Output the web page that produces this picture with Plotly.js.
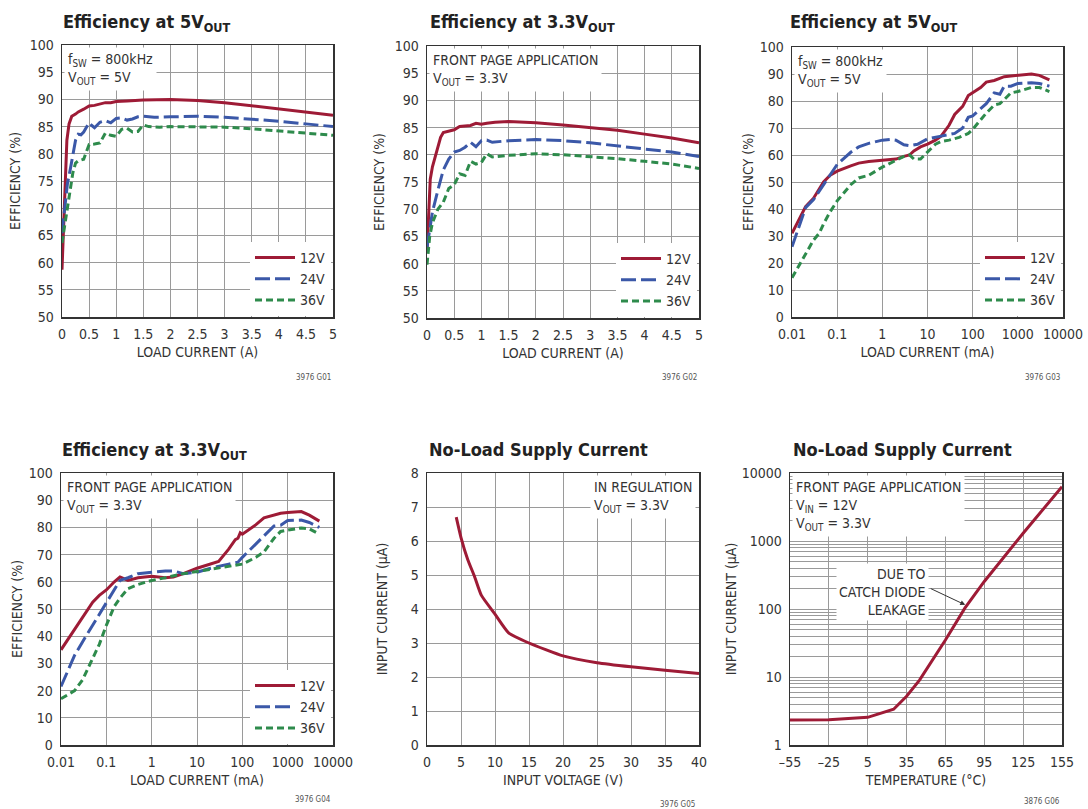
<!DOCTYPE html>
<html>
<head>
<meta charset="utf-8">
<script src="https://cdn.plot.ly/plotly-3.0.1.min.js"></script>
<style>html,body{margin:0;padding:0;background:#fff;}#chart{width:1088px;height:809px;}</style>
</head>
<body>
<div id="chart"></div>
<script>
// ---------- DATA ----------
const seriesNames = ['12V', '24V', '36V'];

// Panel 1: Efficiency at 5VOUT, linear load current (A)
const p1_x12 = [0, 0.03, 0.06, 0.09, 0.13, 0.18, 0.25, 0.3, 0.4, 0.5, 0.6, 0.7, 0.8, 0.9, 1.0, 1.2, 1.5, 2.0, 2.5, 3.0, 3.5, 4.0, 4.5, 5.0];
const p1_y12 = [58.7, 68, 76, 82.5, 85.5, 86.9, 87.3, 87.7, 88.2, 88.8, 88.9, 89.2, 89.4, 89.4, 89.6, 89.7, 89.9, 90.0, 89.8, 89.4, 88.8, 88.3, 87.7, 87.1];
const p1_x24 = [0, 0.05, 0.1, 0.15, 0.2, 0.25, 0.3, 0.35, 0.4, 0.45, 0.5, 0.55, 0.6, 0.7, 0.8, 0.9, 1.0, 1.1, 1.2, 1.3, 1.4, 1.5, 1.7, 2.0, 2.5, 3.0, 3.5, 4.0, 4.5, 5.0];
const p1_y24 = [65.4, 70.5, 74.5, 77, 79.5, 82.5, 83.6, 83.5, 84, 84.8, 85.7, 85.2, 84.8, 85.8, 86.1, 85.7, 86.5, 86.6, 86.2, 86.4, 86.8, 86.9, 86.7, 86.8, 86.9, 86.7, 86.4, 86.0, 85.5, 85.0];
const p1_x36 = [0, 0.05, 0.1, 0.15, 0.2, 0.25, 0.3, 0.4, 0.45, 0.5, 0.6, 0.7, 0.8, 0.9, 1.0, 1.1, 1.2, 1.3, 1.4, 1.5, 1.6, 1.8, 2.0, 2.5, 3.0, 3.5, 4.0, 4.5, 5.0];
const p1_y36 = [63.6, 67, 70.5, 74, 76.5, 78.3, 78.7, 79, 80.5, 81.7, 81.8, 82, 83.8, 83.4, 83.2, 84.5, 84.7, 84.0, 84.1, 85.3, 85.0, 84.9, 85.0, 85.0, 84.9, 84.6, 84.2, 83.8, 83.4];

// Panel 2: Efficiency at 3.3VOUT, linear load current (A)
const p2_x12 = [0, 0.03, 0.06, 0.1, 0.15, 0.2, 0.25, 0.3, 0.4, 0.5, 0.6, 0.7, 0.8, 0.9, 1.0, 1.1, 1.25, 1.5, 2.0, 2.5, 3.0, 3.5, 4.0, 4.5, 5.0];
const p2_y12 = [62.2, 70, 75.5, 77.8, 79.5, 81.5, 83.2, 84.1, 84.4, 84.6, 85.2, 85.3, 85.4, 85.8, 85.6, 85.8, 86.0, 86.1, 85.9, 85.5, 85.0, 84.5, 83.8, 83.1, 82.2];
const p2_x24 = [0, 0.05, 0.1, 0.2, 0.3, 0.4, 0.5, 0.6, 0.7, 0.8, 0.9, 1.0, 1.1, 1.2, 1.3, 1.5, 2.0, 2.5, 3.0, 3.5, 4.0, 4.5, 5.0];
const p2_y24 = [63, 66.5, 69.5, 73.5, 77.2, 79.2, 80.5, 80.8, 81.4, 82.3, 81.5, 82.6, 82.7, 82.3, 82.4, 82.6, 82.8, 82.6, 82.2, 81.6, 81.0, 80.5, 79.7];
const p2_x36 = [0, 0.05, 0.1, 0.2, 0.3, 0.35, 0.4, 0.5, 0.6, 0.7, 0.8, 0.9, 1.0, 1.1, 1.2, 1.5, 2.0, 2.5, 3.0, 3.5, 4.0, 4.5, 5.0];
const p2_y36 = [59.8, 65, 67.5, 70, 71.3, 72.5, 73.8, 74.5, 76.5, 76.2, 78.8, 78.3, 78.6, 80.2, 79.6, 79.9, 80.2, 80.0, 79.7, 79.3, 78.8, 78.3, 77.5];

// Panel 3: Efficiency at 5VOUT, log load current (mA)
const p3_x12 = [0.01, 0.02, 0.03, 0.05, 0.07, 0.1, 0.2, 0.3, 0.5, 1, 2, 3, 4, 5, 7, 10, 15, 20, 30, 40, 60, 80, 100, 150, 200, 300, 500, 1000, 1500, 2000, 3000, 5000];
const p3_y12 = [31, 40.9, 44, 50, 52.5, 54, 56, 57, 57.6, 58, 58.5, 59.5, 60, 61.5, 63, 64, 65.5, 67, 71, 75, 78, 82, 83, 85, 87, 87.6, 89, 89.6, 90, 90, 89.5, 87.8];
const p3_x24 = [0.01, 0.02, 0.03, 0.05, 0.07, 0.1, 0.2, 0.3, 0.5, 1, 1.5, 2, 3, 4, 6, 8, 10, 20, 40, 60, 80, 100, 150, 200, 300, 400, 500, 700, 1000, 2000, 3000, 5000];
const p3_y24 = [26, 40.5, 43.5, 49, 53, 56.5, 61, 63, 64.3, 65.5, 65.8, 65.5, 63.8, 63.5, 64, 65.3, 66, 67, 68, 70, 74, 74.5, 77, 79, 83, 82.5, 85.5, 85.5, 86.5, 86.8, 86.5, 85.5];
const p3_x36 = [0.01, 0.02, 0.03, 0.04, 0.05, 0.07, 0.1, 0.2, 0.3, 0.5, 0.7, 1, 2, 3, 4, 5, 7, 10, 15, 20, 30, 50, 80, 100, 150, 200, 300, 400, 500, 700, 1000, 2000, 3000, 5000];
const p3_y36 = [14.5, 23, 28.5, 31, 34.5, 39, 43, 49, 51.5, 52.5, 54, 55.5, 58, 59.5, 60, 58.5, 58.5, 61, 64, 65, 65.5, 66.5, 68, 69.5, 73, 75.5, 78.5, 79, 80.5, 83, 83.5, 85, 85, 83.5];

// Panel 4: Efficiency at 3.3VOUT, log load current (mA)
const p4_x12 = [0.01, 0.02, 0.03, 0.05, 0.07, 0.1, 0.15, 0.2, 0.3, 0.5, 1, 2, 3, 5, 10, 20, 30, 50, 70, 80, 90, 100, 200, 300, 500, 700, 1000, 2000, 3000, 5000];
const p4_y12 = [35, 42.5, 47, 52.5, 55, 57, 60, 61.8, 60.5, 61.5, 62, 61.5, 61.8, 63, 65, 66.5, 67.5, 72, 75.5, 76, 78, 77.5, 81, 83.5, 84.5, 85.2, 85.5, 85.8, 84.5, 82.3];
const p4_x24 = [0.01, 0.02, 0.03, 0.05, 0.07, 0.1, 0.2, 0.3, 0.5, 1, 2, 3, 5, 10, 20, 50, 80, 100, 200, 300, 500, 700, 1000, 2000, 3000, 5000];
const p4_y24 = [21.5, 33, 38, 44, 48, 52.5, 60.5, 61.5, 63, 63.5, 64, 64, 63, 63.5, 65, 66.5, 67.2, 69, 74, 77, 80.5, 80.8, 82.5, 82.7, 81.8, 80];
const p4_x36 = [0.01, 0.02, 0.03, 0.05, 0.07, 0.1, 0.15, 0.2, 0.3, 0.5, 1, 2, 5, 10, 30, 50, 100, 200, 300, 500, 700, 1000, 2000, 3000, 5000];
const p4_y36 = [17, 20, 24, 32, 37, 44, 51, 54, 57.5, 59, 60.5, 61.5, 63, 63.8, 65, 65.5, 66.5, 69, 71, 76, 78.5, 79, 79.8, 79.5, 77.5];

// Panel 5: No-load supply current vs input voltage
const p5_vin = [4.3, 5, 6, 7, 8, 10, 12, 15, 20, 25, 30, 35, 40];
const p5_iin = [6.7, 6.1, 5.45, 4.95, 4.4, 3.85, 3.3, 3.0, 2.62, 2.42, 2.3, 2.2, 2.1];

// Panel 6: No-load supply current vs temperature
const p6_temp = [-55, -25, 5, 25, 35, 45, 65, 80, 95, 125, 155];
const p6_iin = [2.33, 2.35, 2.55, 3.35, 5.2, 9, 35, 103, 254, 1300, 6300];

// Tick labels
const logLoadTicks = [0.01, 0.1, 1, 10, 100, 1000, 10000];
const logLoadText = ['0.01', '0.1', '1', '10', '100', '1000', '10000'];
const tempTicks = [-55, -25, 5, 35, 65, 95, 125, 155];
const tempText = ['\u201355', '\u201325', '5', '35', '65', '95', '125', '155'];

// ---------- STYLE ----------
const FONT = "'DejaVu Sans Condensed', 'Liberation Sans Narrow', sans-serif";
const W = 1088, H = 809;
const px = v => v / W;
const py = v => 1 - v / H;
const colors = ['#9e1b36', '#3b58a8', '#2e8b4c'];
const dashes = ['solid', '15px,5px', '7px,4px'];
const GRID = '#9a9a9a';
const TXT = '#333';

// panel boxes in pixels [left, right, top, bottom]
const boxes = [
  [62, 333, 45, 317],
  [427, 699, 46, 318],
  [792, 1063, 47, 317],
  [61, 333, 473, 745],
  [427, 699, 473, 745],
  [790, 1062, 473, 745]
];
const yStandoff = [6, 7, 3, 3, 20, 1];

function axBase(extra) {
  return Object.assign({
    showgrid: true, gridcolor: GRID, gridwidth: 1,
    showline: true, mirror: true, linecolor: '#333', linewidth: 1.5,
    zeroline: false, ticks: '', ticklabelstandoff: 4,
    tickfont: {family: FONT, size: 14, color: TXT},
    fixedrange: true
  }, extra);
}

const layout = {
  width: W, height: H,
  margin: {l: 0, r: 0, t: 0, b: 0},
  paper_bgcolor: '#fff', plot_bgcolor: '#fff',
  font: {family: FONT, size: 14, color: TXT},
  annotations: [], showlegend: true
};

function setAxes(i, xo, yo) {
  const b = boxes[i];
  const s = i === 0 ? '' : String(i + 1);
  layout['xaxis' + s] = axBase(Object.assign({domain: [px(b[0]), px(b[1])], anchor: 'y' + s}, xo));
  layout['yaxis' + s] = axBase(Object.assign({domain: [py(b[3]), py(b[2])], anchor: 'x' + s}, yo));
  layout['yaxis' + s].title.standoff = yStandoff[i];
}

function xt(t) { return {text: t, font: {family: FONT, size: 14, color: TXT}, standoff: 6}; }
function yt(t) { return {text: t, font: {family: FONT, size: 14, color: TXT}, standoff: 8}; }

setAxes(0, {range: [0, 5], dtick: 0.5, title: xt('LOAD CURRENT (A)')}, {range: [50, 100], dtick: 5, title: yt('EFFICIENCY (%)')});
setAxes(1, {range: [0, 5], dtick: 0.5, title: xt('LOAD CURRENT (A)')}, {range: [50, 100], dtick: 5, title: yt('EFFICIENCY (%)')});
setAxes(2, {type: 'log', range: [-2, 4], tickvals: logLoadTicks, ticktext: logLoadText, title: xt('LOAD CURRENT (mA)')}, {range: [0, 100], dtick: 10, title: yt('EFFICIENCY (%)')});
setAxes(3, {type: 'log', range: [-2, 4], tickvals: logLoadTicks, ticktext: logLoadText, title: xt('LOAD CURRENT (mA)')}, {range: [0, 100], dtick: 10, title: yt('EFFICIENCY (%)')});
setAxes(4, {range: [0, 40], dtick: 5, title: xt('INPUT VOLTAGE (V)')}, {range: [0, 8], dtick: 1, title: yt('INPUT CURRENT (\u00B5A)')});
setAxes(5, {range: [-55, 155], tickvals: tempTicks, ticktext: tempText, title: xt('TEMPERATURE (\u00B0C)')},
  {type: 'log', range: [0, 4], dtick: 1, tickformat: 'd', title: yt('INPUT CURRENT (\u00B5A)'),
   minor: {dtick: 'D1', showgrid: true, gridcolor: GRID, gridwidth: 1, ticks: ''}});

const traces = [];
const effData = [
  [[p1_x12, p1_y12], [p1_x24, p1_y24], [p1_x36, p1_y36]],
  [[p2_x12, p2_y12], [p2_x24, p2_y24], [p2_x36, p2_y36]],
  [[p3_x12, p3_y12], [p3_x24, p3_y24], [p3_x36, p3_y36]],
  [[p4_x12, p4_y12], [p4_x24, p4_y24], [p4_x36, p4_y36]]
];
effData.forEach((panel, i) => {
  const s = i === 0 ? '' : String(i + 1);
  const lg = i === 0 ? 'legend' : 'legend' + (i + 1);
  panel.forEach((d, k) => {
    traces.push({
      x: d[0], y: d[1], type: 'scatter', mode: 'lines', name: seriesNames[k],
      xaxis: 'x' + s, yaxis: 'y' + s, legend: lg,
      line: {color: colors[k], width: 3, dash: dashes[k]},
      hoverinfo: 'skip'
    });
  });
  const b = boxes[i];
  layout[lg] = {
    x: px(b[1] - 2), xanchor: 'right', y: py(b[3] - 1), yanchor: 'bottom',
    xref: 'paper', yref: 'paper',
    bgcolor: '#fff', borderwidth: 0,
    font: {family: FONT, size: 14, color: TXT},
    tracegroupgap: 0, itemwidth: 40, traceorder: 'normal'
  };
});

traces.push({x: p5_vin, y: p5_iin, type: 'scatter', mode: 'lines', xaxis: 'x5', yaxis: 'y5',
  line: {color: colors[0], width: 3, shape: 'spline', smoothing: 0.5}, showlegend: false, hoverinfo: 'skip'});
traces.push({x: p6_temp, y: p6_iin, type: 'scatter', mode: 'lines', xaxis: 'x6', yaxis: 'y6',
  line: {color: colors[0], width: 3}, showlegend: false, hoverinfo: 'skip'});

// ---------- ANNOTATIONS ----------
const A = layout.annotations;
const titles = [
  ['Efficiency at 5V<sub>OUT</sub>', 61, 9],
  ['Efficiency at 3.3V<sub>OUT</sub>', 428, 9],
  ['Efficiency at 5V<sub>OUT</sub>', 788, 9],
  ['Efficiency at 3.3V<sub>OUT</sub>', 60, 437],
  ['No-Load Supply Current', 427, 437],
  ['No-Load Supply Current', 791, 437]
];
titles.forEach(t => A.push({
  text: '<b>' + t[0] + '</b>', xref: 'paper', yref: 'paper', x: px(t[1]), y: py(t[2]),
  xanchor: 'left', yanchor: 'top', showarrow: false,
  font: {family: FONT, size: 18, color: '#222'}
}));

function note(text, left, top, anchor) {
  A.push({
    text: text, xref: 'paper', yref: 'paper', x: px(left), y: py(top),
    xanchor: anchor || 'left', yanchor: 'top', align: 'left', showarrow: false,
    bgcolor: '#fff', borderpad: 3,
    font: {family: FONT, size: 14, color: TXT}
  });
}
note('f<sub>SW</sub> = 800kHz<br>V<sub>OUT</sub> = 5V', 64, 47);
note('FRONT PAGE APPLICATION<br>V<sub>OUT</sub> = 3.3V', 429, 48);
note('f<sub>SW</sub> = 800kHz<br>V<sub>OUT</sub> = 5V', 794, 49);
note('FRONT PAGE APPLICATION<br>V<sub>OUT</sub> = 3.3V', 63, 475);
note('IN REGULATION<br>V<sub>OUT</sub> = 3.3V', 696, 475, 'right');
note('FRONT PAGE APPLICATION<br>V<sub>IN</sub> = 12V<br>V<sub>OUT</sub> = 3.3V', 792, 475);

// leakage callout
A.push({
  text: 'DUE TO<br>CATCH DIODE<br>LEAKAGE', xref: 'paper', yref: 'paper', x: px(929), y: py(563),
  xanchor: 'right', yanchor: 'top', align: 'right', showarrow: false, bgcolor: '#fff', borderpad: 2,
  font: {family: FONT, size: 14, color: TXT}
});
A.push({
  text: ' ', xref: 'x6', yref: 'y6', x: 80.3, y: Math.log10(115),
  showarrow: true, ax: -36, ay: -17, arrowhead: 2, arrowsize: 1, arrowwidth: 1, arrowcolor: '#333', standoff: 0,
  font: {size: 1}
});

const footers = [
  ['3976 G01', 333, 378], ['3976 G02', 699, 378], ['3976 G03', 1062, 378],
  ['3976 G04', 333, 799], ['3976 G05', 697, 804], ['3876 G06', 1062, 801]
];
footers.forEach(f => A.push({
  text: f[0], xref: 'paper', yref: 'paper', x: px(f[1]), y: py(f[2]),
  xanchor: 'right', yanchor: 'middle', showarrow: false,
  font: {family: FONT, size: 8, color: '#555'}
}));

Plotly.newPlot('chart', traces, layout, {displayModeBar: false, staticPlot: true});
</script>
</body>
</html>
